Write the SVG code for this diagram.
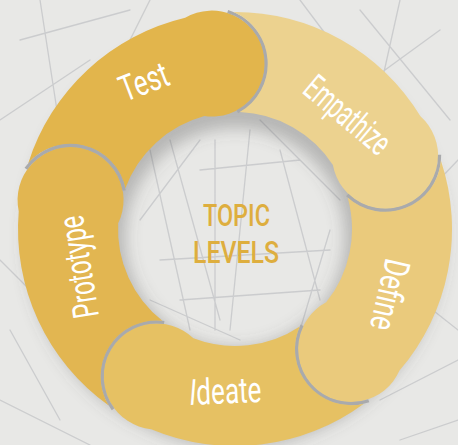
<svg xmlns="http://www.w3.org/2000/svg" xmlns:xlink="http://www.w3.org/1999/xlink" width="458" height="445" viewBox="0 0 458 445">
<defs>
<style>
.bg{fill:#E8E8E6}
.sk{stroke:#8E939A;stroke-opacity:.32;stroke-width:1.3;fill:none;stroke-linecap:round}
.edge{fill:none;stroke:#A9AAAC;stroke-width:3.2}
.lbl{font-family:Roboto,"Liberation Sans",sans-serif;font-size:36px;fill:#FFFFFF;font-weight:400}
.title{font-family:Roboto,"Liberation Sans",sans-serif;font-size:32px;fill:#DEAE3E;font-weight:500}
</style>
<path id="seg" d="M93.72,-195.72 A217,217 0 0,1 216.08,-19.96 A53,53 0 1,1 116.08,-14.64 A117,117 0 0,0 55.54,-102.98 A56,56 0 0,0 93.72,-195.72 Z"/>
<path id="edgeArc" d="M216.39,23.03 A54.5,54.5 0 0,1 115.79,18.64"/>
<filter id="blur" x="-20%" y="-20%" width="140%" height="140%"><feGaussianBlur stdDeviation="8"/></filter>
</defs>
<rect class="bg" x="0" y="0" width="458" height="445"/>
<g id="sketch">
<path class="sk" d="M20,40 L130,10 M0,120 L90,60 M40,0 L60,130 M150,0 L120,60 M300,0 L330,40 M360,10 L450,120 M400,0 L380,90 M440,30 L330,110 M420,200 L458,160 M0,260 L40,300 M10,330 L60,420 M0,400 L90,445 M380,400 L458,360 M420,300 L458,330 M400,440 L458,420"/>
<path class="sk" d="M150,150 L190,330 M170,140 L220,320 M250,130 L230,330 M280,150 L320,300 M200,170 L300,160 M160,260 L330,250 M180,300 L320,290 M260,120 L340,200 M140,220 L200,140 M300,330 L330,230 M215,140 L215,330 M150,300 L240,340"/>
</g>
<path d="M235,20 A209,209 0 1,1 234.9,20 Z M235,119 A110,110 0 1,0 235.1,119 Z" fill="#5A5A5A" fill-opacity=".35" fill-rule="evenodd" transform="translate(0,9)" filter="url(#blur)"/>
<g id="connectors"/>
<g id="test">
<use href="#seg" fill="#E2B54C" transform="translate(235,229) rotate(262)"/>
<use href="#edgeArc" class="edge" transform="translate(235,229) rotate(262)"/>
<text class="lbl" transform="translate(125,102) rotate(-21)" textLength="50" lengthAdjust="spacingAndGlyphs">Test</text>
</g>
<g id="empathize">
<use href="#seg" fill="#ECD28F" transform="translate(235,229) rotate(334)"/>
<use href="#edgeArc" class="edge" transform="translate(235,229) rotate(334)"/>
<text class="lbl" transform="translate(301,92) rotate(40)" textLength="101" lengthAdjust="spacingAndGlyphs">Empathize</text>
</g>
<g id="define">
<use href="#seg" fill="#EACA7C" transform="translate(235,229) rotate(46)"/>
<use href="#edgeArc" class="edge" transform="translate(235,229) rotate(46)"/>
<text class="lbl" transform="translate(386,257) rotate(103)" textLength="72" lengthAdjust="spacingAndGlyphs">Define</text>
</g>
<g id="ideate">
<use href="#seg" fill="#E6C163" transform="translate(235,229) rotate(118)"/>
<use href="#edgeArc" class="edge" transform="translate(235,229) rotate(118)"/>
<text class="lbl" transform="translate(190,405) rotate(-2.5)" textLength="72" lengthAdjust="spacingAndGlyphs"><tspan font-style="italic">I</tspan>deate</text>
</g>
<g id="prototype">
<use href="#seg" fill="#E2B651" transform="translate(235,229) rotate(190)"/>
<use href="#edgeArc" class="edge" transform="translate(235,229) rotate(190)"/>
<text class="lbl" transform="translate(99,316) rotate(-99)" textLength="103" lengthAdjust="spacingAndGlyphs">Prototype</text>
</g>
<g id="center-title">
<text class="title" x="203" y="226" textLength="67" lengthAdjust="spacingAndGlyphs">TOPIC</text>
<text class="title" x="193" y="263" textLength="86" lengthAdjust="spacingAndGlyphs">LEVELS</text>
</g>
</svg>
